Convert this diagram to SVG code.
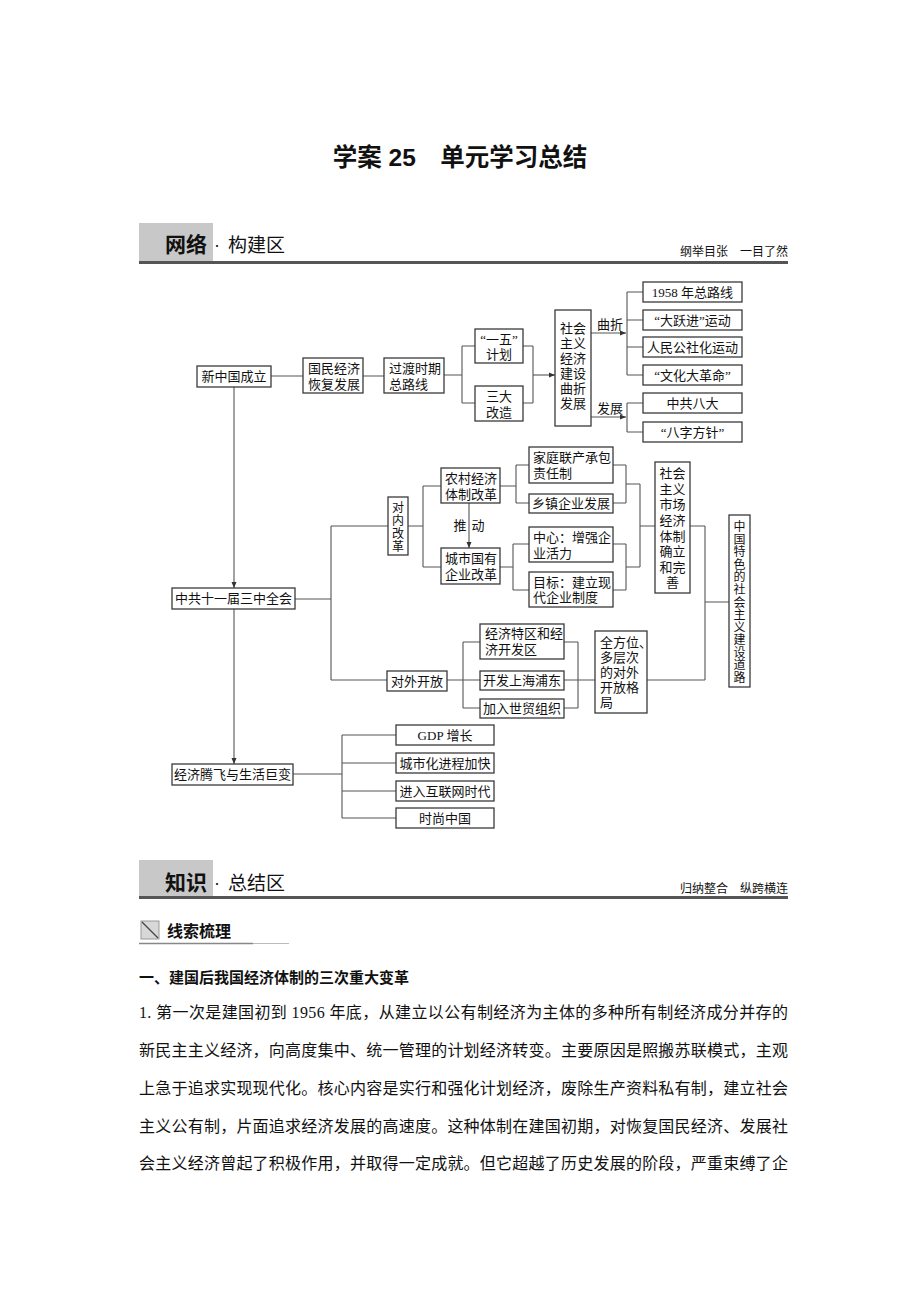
<svg xmlns="http://www.w3.org/2000/svg" width="920" height="1302" viewBox="0 0 920 1302">
<defs>
<marker id="arr" markerWidth="6" markerHeight="6" refX="6" refY="3" orient="auto" markerUnits="userSpaceOnUse">
<path d="M0,0.5 L6,3 L0,5.5 Z" fill="#333"/>
</marker>
<style>
.bx{fill:#fff;stroke:#3a3a3a;stroke-width:1.3}
.t{font-family:"Liberation Serif","Noto Sans CJK SC",serif;font-size:13px;fill:#111}
.v{font-size:12px}
.c{text-anchor:middle}
.ln{fill:none;stroke:#555;stroke-width:1.1}
.hd{font-family:"Liberation Sans","Noto Sans CJK SC",sans-serif;fill:#111}
.body{font-family:"Liberation Serif","Noto Sans CJK SC",serif;font-size:16px;fill:#111}
</style>
</defs>
<rect width="920" height="1302" fill="#fff"/>

<!-- Title -->
<text x="460" y="166" class="hd" font-size="24.5" font-weight="bold" text-anchor="middle">学案 25　单元学习总结</text>

<!-- Header 1 -->
<g id="header1">
<rect x="139" y="223" width="74" height="38" fill="#c8c8c8"/>
<text x="165" y="252" class="hd" font-size="21" font-weight="bold">网络</text>
<text x="214" y="251" class="hd" font-size="18">·</text>
<text x="228" y="252" class="hd" font-size="19">构建区</text>
<text x="788" y="256" class="hd" font-size="12" fill="#555" text-anchor="end">纲举目张　一目了然</text>
<rect x="139" y="261" width="649" height="3" fill="#555"/>
</g>

<!-- Connectors -->
<g id="connectors">
<path class="ln" d="M271,376H303 M363,376H384 M444,375H462 M462,346V403 M462,346H475 M462,403H475"/>
<path class="ln" d="M523,346H533 M523,403H533 M533,346V403"/>
<path class="ln" d="M533,375H555" marker-end="url(#arr)"/>
<path class="ln" d="M591,333H626" marker-end="url(#arr)"/>
<path class="ln" d="M627,292V375 M627,292H643 M627,320H643 M627,347H643 M627,375H643"/>
<path class="ln" d="M591,417H626" marker-end="url(#arr)"/>
<path class="ln" d="M627,403V432 M627,403H643 M627,432H643"/>
<path class="ln" d="M234,387V588" marker-end="url(#arr)"/>
<path class="ln" d="M234,608V764" marker-end="url(#arr)"/>
<path class="ln" d="M295,599H331 M331,526V680 M331,526H388 M331,680H387"/>
<path class="ln" d="M408,526H423 M423,486V567 M423,486H441 M423,567H441"/>
<path class="ln" d="M469,503V548" marker-end="url(#arr)"/>
<path class="ln" d="M500,486H516 M516,465V503 M516,465H529 M516,503H529"/>
<path class="ln" d="M500,567H513 M513,544V590 M513,544H529 M513,590H529"/>
<path class="ln" d="M613,465H626 M613,503H626 M626,465V503 M626,484H640"/>
<path class="ln" d="M613,544H626 M613,590H626 M626,544V590 M626,567H640"/>
<path class="ln" d="M640,484V567 M640,526H655"/>
<path class="ln" d="M690,526H705 M705,526V680 M705,602H729"/>
<path class="ln" d="M447,680H463 M463,642V708 M463,642H480 M463,680H480 M463,708H480"/>
<path class="ln" d="M564,642H578 M564,708H578 M578,642V708 M564,680H595"/>
<path class="ln" d="M647,680H705"/>
<path class="ln" d="M293,774H342 M342,735V818 M342,735H396 M342,763H396 M342,791H396 M342,818H396"/>
<text x="597" y="329" class="t" font-size="12">曲折</text>
<text x="597" y="413" class="t" font-size="12">发展</text>
<text x="460" y="530" class="t c" font-size="11">推</text>
<text x="478" y="530" class="t c" font-size="11">动</text>
</g>

<!-- Nodes -->
<g id="n_xinzhongguo"><rect class="bx" x="197" y="366" width="74" height="21"/><text class="t c" x="234" y="381">新中国成立</text></g>
<g id="n_guomin"><rect class="bx" x="303" y="358" width="60" height="35"/><text class="t" x="308" y="373">国民经济</text><text class="t" x="308" y="389">恢复发展</text></g>
<g id="n_guodu"><rect class="bx" x="384" y="358" width="60" height="35"/><text class="t" x="389" y="373">过渡时期</text><text class="t" x="389" y="389">总路线</text></g>
<g id="n_yiwu"><rect class="bx" x="475" y="329" width="48" height="34"/><text class="t c" x="499" y="344">“一五”</text><text class="t c" x="499" y="359">计划</text></g>
<g id="n_sanda"><rect class="bx" x="475" y="386" width="48" height="35"/><text class="t c" x="499" y="401">三大</text><text class="t c" x="499" y="417">改造</text></g>
<g id="n_quzhe"><rect class="bx" x="555" y="310" width="36" height="116"/>
<text class="t c" x="573" y="333">社会</text><text class="t c" x="573" y="348">主义</text><text class="t c" x="573" y="363">经济</text><text class="t c" x="573" y="378">建设</text><text class="t c" x="573" y="393">曲折</text><text class="t c" x="573" y="408">发展</text></g>
<g id="n_1958"><rect class="bx" x="643" y="282" width="99" height="20"/><text class="t c" x="692.5" y="297">1958 年总路线</text></g>
<g id="n_dayuejin"><rect class="bx" x="643" y="310" width="99" height="20"/><text class="t c" x="692.5" y="325">“大跃进”运动</text></g>
<g id="n_renmin"><rect class="bx" x="643" y="337" width="99" height="20"/><text class="t c" x="692.5" y="352">人民公社化运动</text></g>
<g id="n_wenge"><rect class="bx" x="643" y="365" width="99" height="20"/><text class="t c" x="692.5" y="380">“文化大革命”</text></g>
<g id="n_bada"><rect class="bx" x="643" y="393" width="99" height="20"/><text class="t c" x="692.5" y="408">中共八大</text></g>
<g id="n_bazi"><rect class="bx" x="643" y="422" width="99" height="20"/><text class="t c" x="692.5" y="437">“八字方针”</text></g>

<g id="n_sanzhong"><rect class="bx" x="172" y="588" width="123" height="21"/><text class="t c" x="233.5" y="603">中共十一届三中全会</text></g>
<g id="n_duinei"><rect class="bx" x="388" y="497" width="20" height="58"/><text class="t v c" x="398" y="512">对</text><text class="t v c" x="398" y="525">内</text><text class="t v c" x="398" y="538">改</text><text class="t v c" x="398" y="551">革</text></g>
<g id="n_nongcun"><rect class="bx" x="441" y="468" width="59" height="35"/><text class="t" x="445" y="483">农村经济</text><text class="t" x="445" y="499">体制改革</text></g>
<g id="n_chengshi"><rect class="bx" x="441" y="548" width="59" height="36"/><text class="t" x="445" y="563">城市国有</text><text class="t" x="445" y="579">企业改革</text></g>
<g id="n_jiating"><rect class="bx" x="529" y="447" width="84" height="36"/><text class="t" x="533" y="462">家庭联产承包</text><text class="t" x="533" y="478">责任制</text></g>
<g id="n_xiangzhen"><rect class="bx" x="529" y="494" width="84" height="19"/><text class="t c" x="571" y="508">乡镇企业发展</text></g>
<g id="n_zhongxin"><rect class="bx" x="529" y="527" width="84" height="35"/><text class="t" x="533" y="542">中心：增强企</text><text class="t" x="533" y="558">业活力</text></g>
<g id="n_mubiao"><rect class="bx" x="529" y="572" width="84" height="35"/><text class="t" x="533" y="587">目标：建立现</text><text class="t" x="533" y="602">代企业制度</text></g>
<g id="n_shichang"><rect class="bx" x="655" y="462" width="35" height="131"/>
<text class="t c" x="672.5" y="478">社会</text><text class="t c" x="672.5" y="494">主义</text><text class="t c" x="672.5" y="509">市场</text><text class="t c" x="672.5" y="525">经济</text><text class="t c" x="672.5" y="541">体制</text><text class="t c" x="672.5" y="556">确立</text><text class="t c" x="672.5" y="572">和完</text><text class="t c" x="672.5" y="587">善</text></g>
<g id="n_tese"><rect class="bx" x="729" y="515" width="21" height="172"/>
<text class="t v c" x="739.5" y="531">中</text><text class="t v c" x="739.5" y="544">国</text><text class="t v c" x="739.5" y="556">特</text><text class="t v c" x="739.5" y="569">色</text><text class="t v c" x="739.5" y="581">的</text><text class="t v c" x="739.5" y="594">社</text><text class="t v c" x="739.5" y="607">会</text><text class="t v c" x="739.5" y="619">主</text><text class="t v c" x="739.5" y="632">义</text><text class="t v c" x="739.5" y="644">建</text><text class="t v c" x="739.5" y="657">设</text><text class="t v c" x="739.5" y="669">道</text><text class="t v c" x="739.5" y="682">路</text></g>
<g id="n_duiwai"><rect class="bx" x="387" y="671" width="60" height="20"/><text class="t c" x="417" y="686">对外开放</text></g>
<g id="n_tequ"><rect class="bx" x="480" y="624" width="84" height="35"/><text class="t" x="485" y="638">经济特区和经</text><text class="t" x="485" y="654">济开发区</text></g>
<g id="n_pudong"><rect class="bx" x="480" y="671" width="84" height="19"/><text class="t c" x="522" y="685">开发上海浦东</text></g>
<g id="n_shimao"><rect class="bx" x="480" y="699" width="84" height="19"/><text class="t c" x="522" y="713">加入世贸组织</text></g>
<g id="n_quanfangwei"><rect class="bx" x="595" y="631" width="52" height="82"/>
<text class="t" x="600" y="647">全方位、</text><text class="t" x="600" y="662">多层次</text><text class="t" x="600" y="677">的对外</text><text class="t" x="600" y="692">开放格</text><text class="t" x="600" y="707">局</text></g>
<g id="n_tengfei"><rect class="bx" x="172" y="764" width="121" height="21"/><text class="t c" x="232.5" y="779">经济腾飞与生活巨变</text></g>
<g id="n_gdp"><rect class="bx" x="396" y="725" width="98" height="20"/><text class="t c" x="445" y="740">GDP 增长</text></g>
<g id="n_chengshihua"><rect class="bx" x="396" y="753" width="98" height="20"/><text class="t c" x="445" y="768">城市化进程加快</text></g>
<g id="n_hulianwang"><rect class="bx" x="396" y="781" width="98" height="20"/><text class="t c" x="445" y="796">进入互联网时代</text></g>
<g id="n_shishang"><rect class="bx" x="396" y="808" width="98" height="20"/><text class="t c" x="445" y="823">时尚中国</text></g>

<!-- Header 2 -->
<g id="header2">
<rect x="139" y="860" width="74" height="37" fill="#c8c8c8"/>
<text x="165" y="890" class="hd" font-size="21" font-weight="bold">知识</text>
<text x="214" y="889" class="hd" font-size="18">·</text>
<text x="228" y="890" class="hd" font-size="19">总结区</text>
<text x="788" y="893" class="hd" font-size="12" fill="#555" text-anchor="end">归纳整合　纵跨横连</text>
<rect x="139" y="896" width="649" height="3" fill="#555"/>
</g>

<g id="subheader">
<rect x="141" y="921" width="18" height="18" fill="#d8d8d8" stroke="#999" stroke-width="1"/>
<line x1="142" y1="922" x2="158" y2="938" stroke="#444" stroke-width="1.2"/>
<text x="167" y="937" class="hd" font-size="16" font-weight="bold">线索梳理</text>
<line x1="139" y1="943.5" x2="253" y2="943.5" stroke="#888" stroke-width="1.5"/>
<line x1="253" y1="943.5" x2="289" y2="943.5" stroke="#bbb" stroke-width="1.2"/>
</g>

<g id="body">
<text x="139" y="983" class="hd" font-size="15" font-weight="bold">一、建国后我国经济体制的三次重大变革</text>
<text x="139" y="1018" class="body" textLength="649" lengthAdjust="spacing">1. 第一次是建国初到 1956 年底，从建立以公有制经济为主体的多种所有制经济成分并存的</text>
<text x="139" y="1056" class="body" textLength="649" lengthAdjust="spacing">新民主主义经济，向高度集中、统一管理的计划经济转变。主要原因是照搬苏联模式，主观</text>
<text x="139" y="1094" class="body" textLength="649" lengthAdjust="spacing">上急于追求实现现代化。核心内容是实行和强化计划经济，废除生产资料私有制，建立社会</text>
<text x="139" y="1132" class="body" textLength="649" lengthAdjust="spacing">主义公有制，片面追求经济发展的高速度。这种体制在建国初期，对恢复国民经济、发展社</text>
<text x="139" y="1169" class="body" textLength="649" lengthAdjust="spacing">会主义经济曾起了积极作用，并取得一定成就。但它超越了历史发展的阶段，严重束缚了企</text>
</g>
</svg>
